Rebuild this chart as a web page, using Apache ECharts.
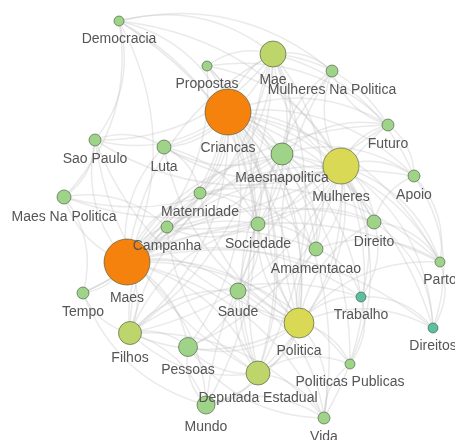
<!DOCTYPE html>
<html>
<head>
<meta charset="utf-8">
<script src="https://cdn.jsdelivr.net/npm/echarts@6/dist/echarts.min.js"></script>
<style>
  html, body { margin: 0; padding: 0; background: #fff; }
  #grafo { width: 455px; height: 440px; }
</style>
</head>
<body>
<div id="grafo"></div>
<script>
// palavras (nós) do grafo
const palavras = [
  "Democracia", "Propostas", "Criancas", "Mae", "Mulheres Na Politica",
  "Futuro", "Sao Paulo", "Luta", "Maesnapolitica", "Mulheres",
  "Apoio", "Maes Na Politica", "Maternidade", "Campanha", "Sociedade",
  "Direito", "Amamentacao", "Maes", "Parto", "Tempo",
  "Saude", "Trabalho", "Filhos", "Politica", "Direitos",
  "Pessoas", "Politicas Publicas", "Deputada Estadual", "Mundo", "Vida"
]
// posição de cada nó no layout
const posX = [119, 207, 228, 273, 332, 388, 95, 164, 282, 341, 414, 64, 200, 167, 258, 374, 316, 127, 440, 83, 238, 361, 130, 299, 433, 188, 350, 258, 206, 324]
const posY = [21, 66, 112, 54, 71, 125, 140, 147, 154, 166, 176, 197, 193, 227, 224, 222, 249, 262, 262, 293, 291, 297, 333, 323, 328, 347, 364, 373, 405, 418]
// frequência (diâmetro do nó)
const frequencia = [10, 10, 46, 26, 12, 12, 12, 14, 22, 36, 12, 14, 12, 12, 14, 14, 14, 46, 10, 12, 16, 10, 23, 30, 10, 19, 10, 24, 18, 12]
// faixa de cor (0 = menor, 4 = maior)
const faixa = [1, 1, 4, 2, 1, 1, 1, 1, 1, 3, 1, 1, 1, 1, 1, 1, 1, 4, 1, 1, 1, 0, 2, 3, 0, 1, 1, 2, 1, 1]

// ligações entre palavras
const ligacoes = {
  "Democracia": ["Mulheres Na Politica", "Mae", "Maes Na Politica", "Maes", "Criancas", "Mulheres", "Politica", "Sociedade", "Sao Paulo"],
  "Propostas": ["Mae", "Criancas", "Mulheres", "Maes", "Politica", "Deputada Estadual", "Futuro"],
  "Criancas": ["Mae", "Maes", "Mulheres", "Maesnapolitica", "Luta", "Sao Paulo", "Maternidade", "Sociedade", "Saude", "Pessoas",
    "Filhos", "Politica", "Direito", "Apoio", "Futuro", "Campanha", "Amamentacao", "Parto", "Direitos", "Vida", "Mundo",
    "Deputada Estadual", "Trabalho", "Tempo", "Politicas Publicas"],
  "Maes": ["Mae", "Mulheres", "Maesnapolitica", "Luta", "Sao Paulo", "Maes Na Politica", "Maternidade", "Campanha", "Sociedade",
    "Saude", "Tempo", "Filhos", "Pessoas", "Politica", "Direito", "Amamentacao", "Trabalho", "Parto", "Direitos", "Mundo",
    "Deputada Estadual", "Vida", "Politicas Publicas", "Futuro", "Apoio"],
  "Mulheres": ["Mae", "Mulheres Na Politica", "Futuro", "Apoio", "Maesnapolitica", "Direito", "Politica", "Sociedade", "Luta",
    "Sao Paulo", "Maes Na Politica", "Filhos", "Pessoas", "Trabalho", "Parto", "Direitos", "Deputada Estadual",
    "Politicas Publicas", "Vida", "Amamentacao", "Campanha"],
  "Politica": ["Mae", "Maesnapolitica", "Sociedade", "Saude", "Direito", "Amamentacao", "Trabalho", "Direitos",
    "Politicas Publicas", "Deputada Estadual", "Pessoas", "Filhos", "Mundo", "Vida", "Luta", "Sao Paulo", "Maternidade",
    "Mulheres Na Politica", "Parto", "Futuro"],
  "Mae": ["Mulheres Na Politica", "Maesnapolitica", "Luta", "Sao Paulo", "Futuro", "Apoio", "Filhos", "Deputada Estadual",
    "Sociedade", "Maternidade", "Amamentacao", "Tempo"],
  "Deputada Estadual": ["Mundo", "Pessoas", "Filhos", "Saude", "Sociedade", "Vida", "Politicas Publicas", "Campanha",
    "Maesnapolitica", "Mulheres Na Politica", "Sao Paulo"],
  "Filhos": ["Tempo", "Pessoas", "Mundo", "Saude", "Maternidade", "Campanha", "Sociedade", "Vida", "Maesnapolitica", "Trabalho"],
  "Maesnapolitica": ["Mulheres Na Politica", "Luta", "Sociedade", "Direito", "Apoio", "Futuro", "Amamentacao", "Campanha",
    "Maes Na Politica", "Parto"],
  "Sao Paulo": ["Luta", "Maes Na Politica"],
  "Luta": ["Maternidade", "Sociedade"],
  "Maternidade": ["Sociedade", "Amamentacao", "Parto", "Campanha"],
  "Sociedade": ["Campanha", "Saude", "Direito", "Amamentacao"],
  "Direito": ["Direitos", "Parto", "Apoio", "Trabalho"],
  "Amamentacao": ["Parto", "Saude", "Trabalho"],
  "Trabalho": ["Direitos", "Politicas Publicas"],
  "Saude": ["Pessoas", "Vida"],
  "Mundo": ["Pessoas", "Vida", "Tempo", "Futuro"],
  "Vida": ["Politicas Publicas", "Pessoas"],
  "Futuro": ["Apoio", "Mulheres Na Politica"],
  "Apoio": ["Direitos", "Parto"],
  "Parto": ["Direitos"],
  "Maes Na Politica": ["Tempo", "Campanha"]
}

const cores = ["#5cc0a0", "#9ed388", "#bed56c", "#d9d955", "#f5820d"]

const nos = palavras.map((nome, i) => ({
  name: nome,
  x: posX[i],
  y: posY[i],
  symbolSize: frequencia[i],
  itemStyle: { color: cores[faixa[i]] }
}))

let arestas = []
Object.keys(ligacoes).forEach(origem => {
  ligacoes[origem].forEach(destino => {
    arestas.push({ source: origem, target: destino })
  })
})

let grafico = echarts.init(document.getElementById("grafo"))
let option = {
  animation: false,
  series: [
    {
      type: "graph",
      layout: "none",
      left: 64,
      top: 21,
      width: 376,
      height: 397,
      data: nos,
      links: arestas,
      itemStyle: {
        borderColor: "rgba(50,70,50,0.55)",
        borderWidth: 1
      },
      label: {
        show: true,
        position: "bottom",
        distance: 6,
        color: "#555",
        fontSize: 14,
        fontFamily: "Liberation Sans, Arial, sans-serif"
      },
      lineStyle: {
        color: "#b8b8b8",
        width: 1.5,
        opacity: 0.3,
        curveness: 0.25
      }
    }
  ]
}

option && grafico.setOption(option)
</script>
</body>
</html>
